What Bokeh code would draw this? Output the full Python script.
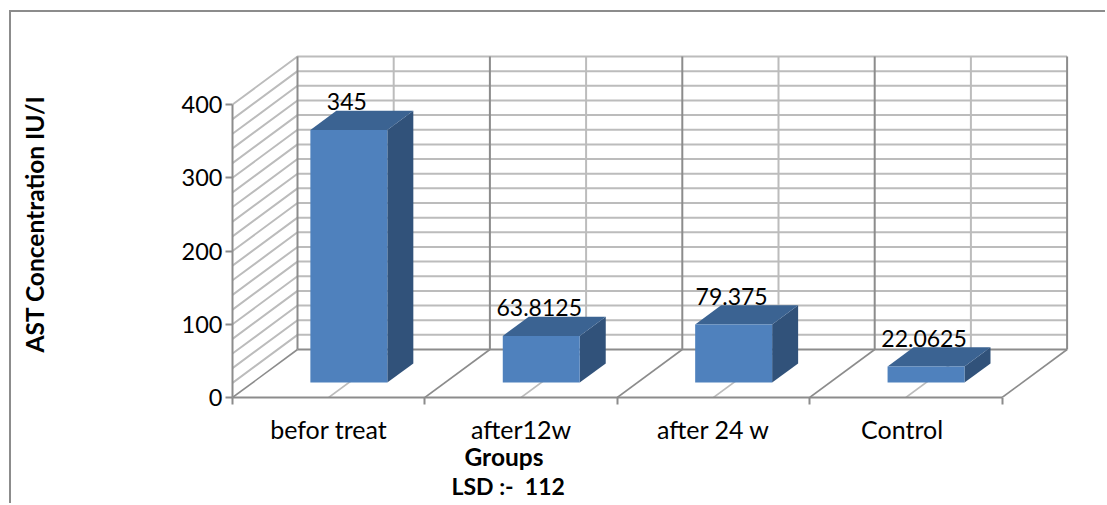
import math
import numpy as np
from bokeh.embed import file_html
from bokeh.resources import INLINE
from bokeh.plotting import figure
from bokeh.models import Range1d, FixedTicker, Title
from bokeh.core.properties import value as bv

categories = ["befor treat", "after12w", "after 24 w", "Control"]
values = [345, 63.8125, 79.375, 22.0625]
value_labels = ["345", "63.8125", "79.375", "22.0625"]
y_ticks = [0, 100, 200, 300, 400]
grid_step = 20
y_max = 400
label_positions = [0.5, 1.5, 2.5, 3.48]
x_title = "Groups"
y_title = "AST Concentration IU/I"
note = "LSD :- \u00a0112"

FONT = "Lato"
PX_X = 192.4      # pixels per category
PX_Y = 0.7325     # pixels per value unit
DX = 65 / PX_X    # projected depth
DY = 48 / PX_Y
LIGHT = "#bcbcbc"
DARK = "#8c8c8c"

def px(c, z=0.0):
    return c + DX * z

def py(v, z=0.0):
    return v + DY * z

n = len(categories)
p = figure(width=1096, height=493, output_backend="svg", toolbar_location=None,
           x_range=Range1d(0, 843 / PX_X), y_range=Range1d(0, 347 / PX_Y),
           min_border_left=221, min_border_right=32, min_border_top=38, min_border_bottom=108,
           outline_line_color=None, background_fill_color="white", border_fill_color="white",
           margin=(10, 0, 0, 9),
           styles={"border-left": "2px solid #8c8c8c", "border-top": "2px solid #8c8c8c"})
p.grid.visible = False

# walls: horizontal and side-wall grid lines
grid_vals = list(range(grid_step, y_max + 1, grid_step))
for v in grid_vals:
    p.line([px(0, 0), px(0, 1), px(n, 1)], [py(v, 0), py(v, 1), py(v, 1)], line_color=LIGHT, line_width=2)
# vertical back wall lines
for i in range(2 * n + 1):
    c = i / 2
    is_major = i % 2 == 0
    p.line([px(c, 1), px(c, 1)], [py(0, 1), py(y_max, 1)],
           line_color=DARK if is_major else LIGHT, line_width=2)
    # floor lines
    p.line([px(c, 0), px(c, 1)], [py(0, 0), py(0, 1)],
           line_color=DARK if is_major else LIGHT, line_width=1.6)
p.line([px(0, 1), px(n, 1)], [py(0, 1), py(0, 1)], line_color=DARK, line_width=2)

# 3-D bars
Z0, Z1, HALF = 0.31, 0.71, 0.2
for i, v in enumerate(values):
    l, r = i + 0.5 - HALF, i + 0.5 + HALF
    p.patch([px(r, Z0), px(r, Z1), px(r, Z1), px(r, Z0)],
            [py(0, Z0), py(0, Z1), py(v, Z1), py(v, Z0)], fill_color="#31527a", line_color=None)
    p.patch([px(l, Z0), px(l, Z1), px(r, Z1), px(r, Z0)],
            [py(v, Z0), py(v, Z1), py(v, Z1), py(v, Z0)], fill_color="#3b6392", line_color=None)
    p.quad(left=px(l, Z0), right=px(r, Z0), bottom=py(0, Z0), top=py(v, Z0), fill_color="#4f81bd", line_color=None)

# data labels
cx = [px(i + 0.5, Z0) for i in range(n)]
cy = [py(v, Z0) for v in values]
p.text(cx, cy, text=value_labels, text_font=bv(FONT), text_font_size="23px", text_color="#000000",
       text_align="center", text_baseline="middle", x_offset=-2, y_offset=-28)

# axes
ya = p.yaxis[0]
ya.ticker = FixedTicker(ticks=y_ticks)
ya.bounds = (0, y_max)
ya.axis_line_color = DARK; ya.axis_line_width = 2
ya.major_tick_line_color = DARK; ya.major_tick_line_width = 2
ya.major_tick_out = 7; ya.major_tick_in = 0
ya.minor_tick_out = 0; ya.minor_tick_in = 0
ya.major_label_standoff = 3
ya.major_label_text_font = FONT; ya.major_label_text_font_size = "23.5px"; ya.major_label_text_color = "#000000"
ya.axis_label = y_title
ya.axis_label_standoff = 130
ya.axis_label_text_font = FONT; ya.axis_label_text_font_size = "24.5px"
ya.axis_label_text_font_style = "bold"; ya.axis_label_text_color = "#000000"

xa = p.xaxis[0]
xa.ticker = FixedTicker(ticks=label_positions, minor_ticks=list(range(n + 1)))
xa.major_label_overrides = dict(zip(label_positions, categories))
xa.bounds = (0, n)
xa.axis_line_color = DARK; xa.axis_line_width = 2
xa.major_tick_out = 0; xa.major_tick_in = 0
xa.minor_tick_line_color = DARK; xa.minor_tick_line_width = 2
xa.minor_tick_out = 7; xa.minor_tick_in = 0
xa.major_label_standoff = 9
xa.major_label_text_font = FONT; xa.major_label_text_font_size = "25px"; xa.major_label_text_color = "#000000"

def title(text, where, offset, standoff, size):
    p.add_layout(Title(text=text, align="left", offset=offset, standoff=standoff, text_font=FONT,
                       text_font_size=size, text_font_style="bold", text_color="#000000"), where)

title(x_title, "below", 232, -14, "24.5px")
title(note, "below", 219, 12, "23px")

open("out.html", "w").write(file_html(p, INLINE))
